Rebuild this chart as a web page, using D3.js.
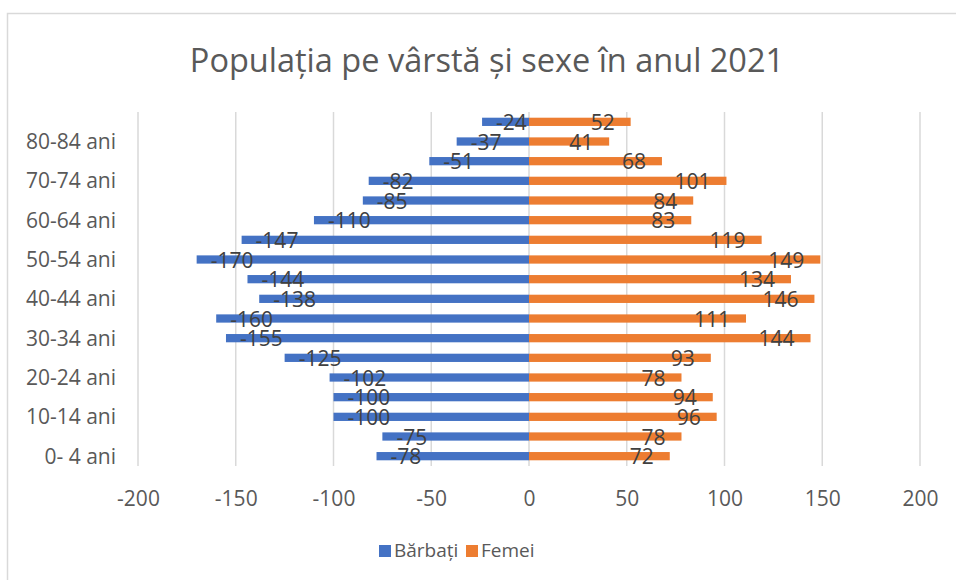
<!DOCTYPE html>
<html><head><meta charset="utf-8">
<script src="https://cdn.jsdelivr.net/npm/d3@7"></script>
<style>body{margin:0;background:#fff}svg{display:block}</style>
</head><body>
<svg id="c" width="956" height="580"></svg>
<script>
const title = "Populația pe vârstă și sexe în anul 2021";
const categories = ["0- 4 ani","5-9 ani","10-14 ani","15-19 ani","20-24 ani","25-29 ani","30-34 ani","35-39 ani","40-44 ani","45-49 ani","50-54 ani","55-59 ani","60-64 ani","65-69 ani","70-74 ani","75-79 ani","80-84 ani","85+ ani"];
const barbati = [-78,-75,-100,-100,-102,-125,-155,-160,-138,-144,-170,-147,-110,-85,-82,-51,-37,-24];
const femei = [72,78,96,94,78,93,144,111,146,134,149,119,83,84,101,68,41,52];
const xTicks = [-200,-150,-100,-50,0,50,100,150,200];
const seriesNames = ["Bărbați","Femei"];
const colors = ["#4472C4","#ED7D31"];

const FONT = "'Open Sans', sans-serif";
const svg = d3.select("#c");
svg.append("rect").attr("x",7.5).attr("y",13.5).attr("width",1000).attr("height",1000)
  .attr("fill","#fff").attr("stroke","#d9d9d9").attr("stroke-width",1.5);

svg.append("text").attr("x",487).attr("y",72).attr("text-anchor","middle")
  .attr("font-family",FONT).attr("font-size",32.5).attr("fill","#595959").text(title);

const x = d3.scaleLinear().domain([-200,200]).range([138,920]);
const y = d3.scaleBand().domain(categories).range([466,112]).paddingInner(0.58).paddingOuter(0.29);

// gridlines
svg.append("g").selectAll("line").data(xTicks).join("line")
  .attr("x1",d=>x(d)).attr("x2",d=>x(d)).attr("y1",112).attr("y2",466)
  .attr("stroke","#d9d9d9").attr("stroke-width",1.5);

// x axis labels
const xAxis = d3.axisBottom(x).tickValues(xTicks).tickSize(0).tickPadding(0).tickFormat(d=>String(d));
const gx = svg.append("g").attr("transform","translate(0,490)").call(xAxis);
gx.select(".domain").remove();
gx.selectAll("text").attr("font-family",FONT).attr("font-size",21).attr("fill","#595959").attr("dy",0).attr("y",16);

// y axis labels
const yAxis = d3.axisLeft(y).tickSize(0).tickPadding(0).tickFormat((d,i)=> i%2===0 ? d : "");
const gy = svg.append("g").attr("transform","translate(116,0)").call(yAxis);
gy.select(".domain").remove();
gy.selectAll("text").attr("font-family",FONT).attr("font-size",21).attr("fill","#595959").attr("dy","0.36em");

// bars
const bh = y.bandwidth();
svg.append("g").selectAll("rect").data(barbati).join("rect")
  .attr("x",d=>x(d)).attr("width",d=>x(0)-x(d))
  .attr("y",(d,i)=>y(categories[i])).attr("height",bh).attr("fill",colors[0]);
svg.append("g").selectAll("rect").data(femei).join("rect")
  .attr("x",x(0)).attr("width",d=>x(d)-x(0))
  .attr("y",(d,i)=>y(categories[i])).attr("height",bh).attr("fill",colors[1]);

// labels
svg.append("g").selectAll("text").data(barbati).join("text")
  .attr("x",d=>x(d)+14).attr("y",(d,i)=>y(categories[i])+bh/2+8)
  .attr("font-family",FONT).attr("font-size",21).attr("fill","#404040").text(d=>d);
svg.append("g").selectAll("text").data(femei).join("text")
  .attr("x",d=>x(d)-16).attr("y",(d,i)=>y(categories[i])+bh/2+8).attr("text-anchor","end")
  .attr("font-family",FONT).attr("font-size",21).attr("fill","#404040").text(d=>d);

// legend
const lg = svg.append("g");
const lx = [379,466];
seriesNames.forEach((n,i)=>{
  lg.append("rect").attr("x",lx[i]).attr("y",545).attr("width",12).attr("height",12).attr("fill",colors[i]);
  lg.append("text").attr("x",lx[i]+15).attr("y",557).attr("font-family",FONT).attr("font-size",19).attr("fill","#595959").text(n);
});
</script>
</body></html>
